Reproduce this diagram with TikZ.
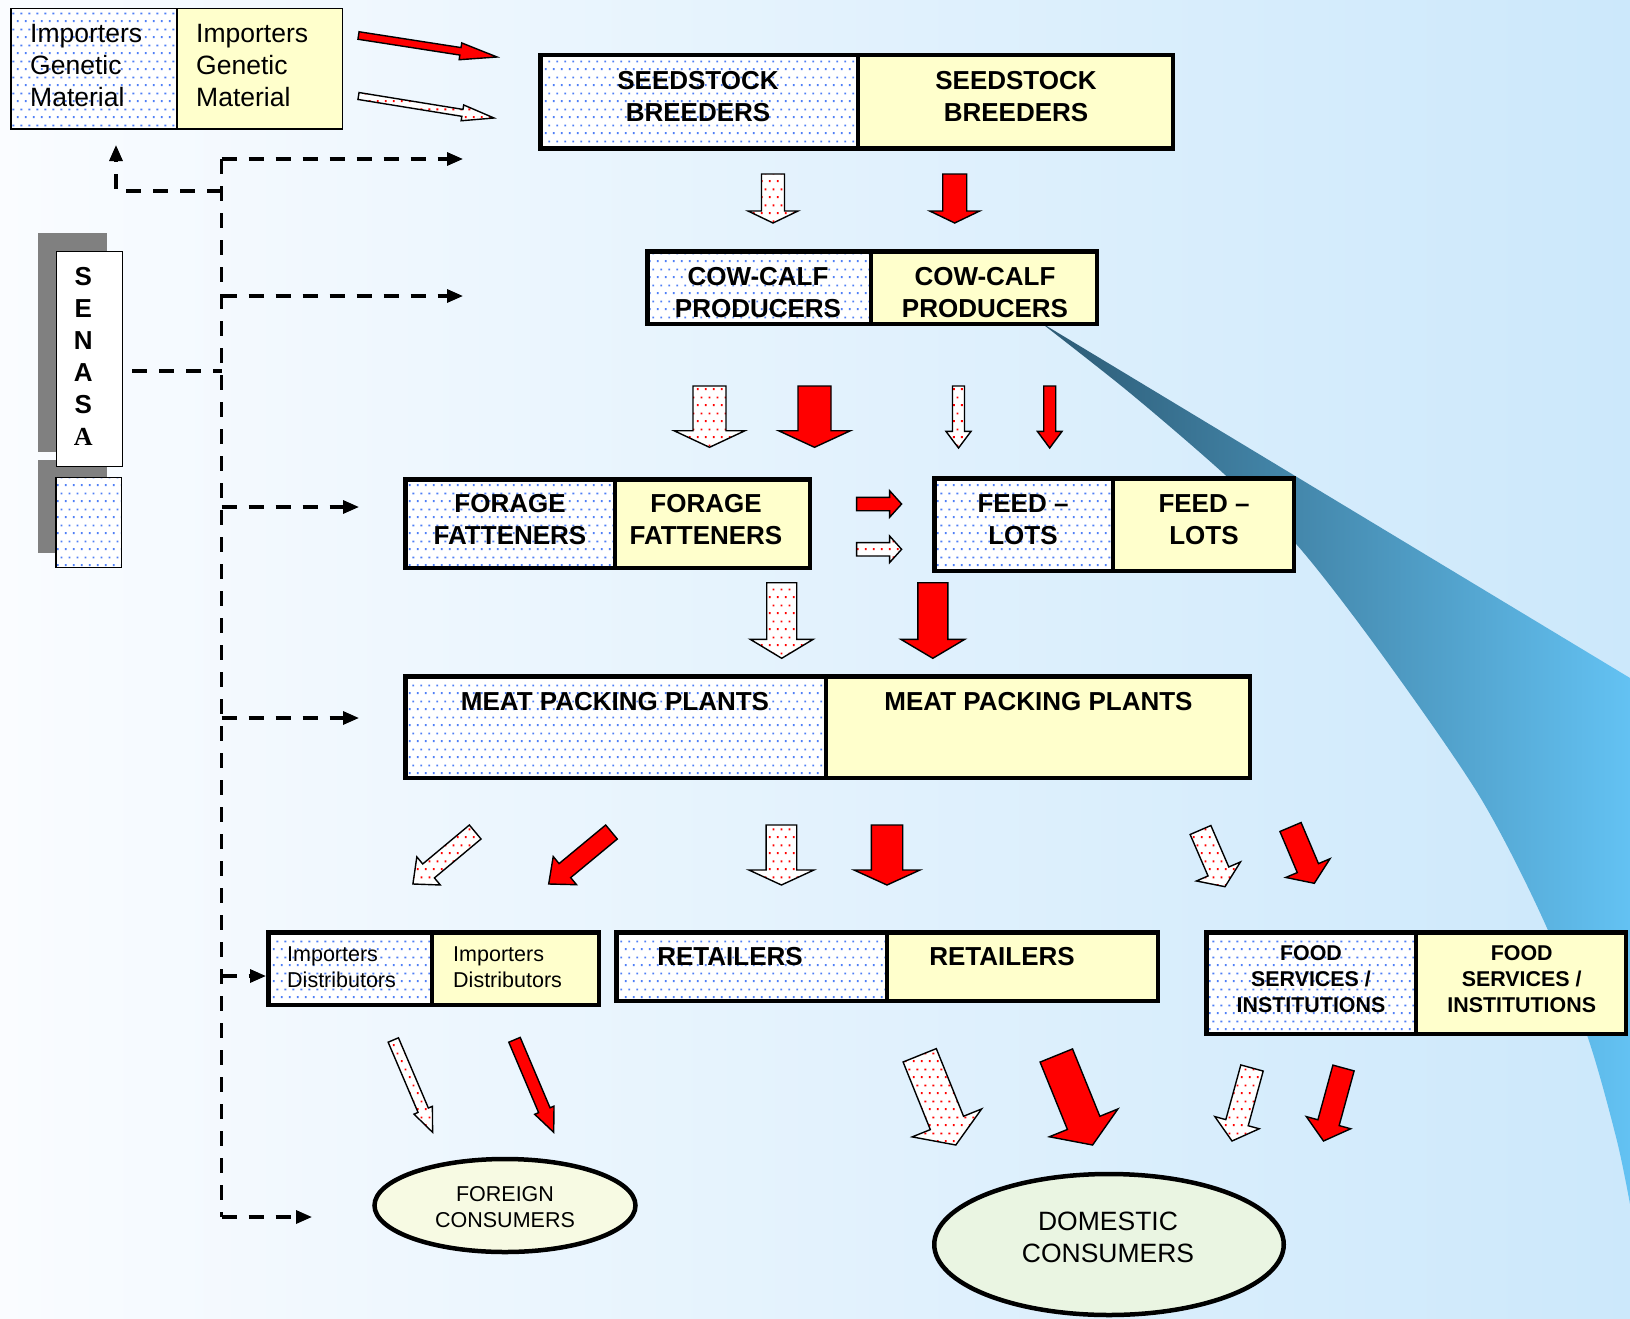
\documentclass[tikz,border=0pt]{standalone}
\usepackage{fontspec}
\setmainfont{Liberation Sans}
\newfontfamily\timesbold{Liberation Serif}
\usetikzlibrary{calc,arrows.meta,patterns.meta,shapes.geometric}

\definecolor{bgleft}{HTML}{FAFCFF}
\definecolor{bgright}{HTML}{CCE8FB}
\definecolor{swdark}{HTML}{2C5A74}
\definecolor{swlight}{HTML}{63C2F3}
\definecolor{paleyellow}{HTML}{FFFFCC}
\definecolor{dotblue}{HTML}{4F7FF6}
\definecolor{arrowred}{HTML}{FF0000}
\definecolor{shadowgray}{HTML}{808080}
\definecolor{foreignfill}{HTML}{F7FAE3}
\definecolor{domesticfill}{HTML}{EAF5E2}

% sparse blue dots for the left half of each box
\tikzdeclarepattern{
  name=bluedots,
  type=colored,
  bottom left={(0pt,0pt)},
  top right={(8pt,16pt)},
  tile size={(8pt,16pt)},
  code={
    \fill[dotblue] (1pt,1pt) rectangle (3pt,3pt);
    \fill[dotblue] (5pt,9pt) rectangle (7pt,11pt);
  }
}
% red dots for the white block arrows
\tikzdeclarepattern{
  name=reddots,
  type=colored,
  bottom left={(0pt,0pt)},
  top right={(8pt,16pt)},
  tile size={(8pt,16pt)},
  code={
    \fill[arrowred] (1pt,1pt) rectangle (3pt,3pt);
    \fill[arrowred] (5pt,9pt) rectangle (7pt,11pt);
  }
}

\tikzset{
  dotcell/.style={rectangle, draw=black, preaction={fill=white}, pattern=bluedots, inner sep=0pt, outer sep=0pt},
  yelcell/.style={rectangle, draw=black, fill=paleyellow, inner sep=0pt, outer sep=0pt},
  bigbold/.style={font=\fontsize{26}{32}\selectfont\bfseries, align=center, inner sep=0pt},
  smallbold/.style={font=\fontsize{21.4}{26}\selectfont\bfseries, align=center, inner sep=0pt},
  bigreg/.style={font=\fontsize{26.5}{32}\selectfont, align=left, inner sep=0pt},
  smallreg/.style={font=\fontsize{21.5}{26}\selectfont, align=left, inner sep=0pt},
  redarrow/.style={fill=arrowred, draw=black, line width=1.4pt, line join=miter},
  dotarrow/.style={preaction={fill=white}, pattern=reddots, draw=black, line width=1.4pt, line join=miter},
  dashline/.style={draw=black, line width=3.2pt, dash pattern=on 15pt off 12pt},
  dashtip/.style={-{Triangle[length=16pt,width=13pt]}},
}

% block arrow: #1 style, #2 tail centre, #3 tip, #4 shaft half width, #5 head half width, #6 head length
\newcommand{\blockarrow}[6]{%
  \coordinate (ba-tail) at #2;
  \coordinate (ba-tip) at #3;
  \coordinate (ba-neck) at ($(ba-tip)!#6pt!(ba-tail)$);
  \draw[#1] ($(ba-tail)!#4pt!90:(ba-tip)$) -- ($(ba-neck)!#4pt!90:(ba-tip)$)
    -- ($(ba-neck)!#5pt!90:(ba-tip)$) -- (ba-tip)
    -- ($(ba-neck)!#5pt!-90:(ba-tip)$) -- ($(ba-neck)!#4pt!-90:(ba-tip)$)
    -- ($(ba-tail)!#4pt!-90:(ba-tip)$) -- cycle;
}

% two-part box: #1 name, #2 left, #3 divider, #4 right, #5 top, #6 bottom (outer edges), #7 border width
\newcommand{\splitbox}[7]{%
  \pgfmathsetmacro{\sbl}{#2+#7/2}%
  \pgfmathsetmacro{\sbr}{#4-#7/2}%
  \pgfmathsetmacro{\sbt}{#5+#7/2}%
  \pgfmathsetmacro{\sbb}{#6-#7/2}%
  \pgfmathsetmacro{\sbwl}{#3-\sbl}%
  \pgfmathsetmacro{\sbwr}{\sbr-#3}%
  \pgfmathsetmacro{\sbh}{\sbb-\sbt}%
  \node[dotcell, line width=#7pt, minimum width=\sbwl pt, minimum height=\sbh pt, anchor=north west] (#1L) at (\sbl,\sbt) {};
  \node[yelcell, line width=#7pt, minimum width=\sbwr pt, minimum height=\sbh pt, anchor=north west] (#1R) at (#3,\sbt) {};
}

\begin{document}
\begin{tikzpicture}[x=1pt,y=-1pt]
\useasboundingbox (0,0) rectangle (1630,1319);

% background and swoosh
\shade[left color=bgleft, right color=bgright] (0,0) rectangle (1630,1319);
\begin{scope}
\clip (0,0) rectangle (1630,1319);
\shade[left color=swdark, right color=swlight]
  (1040,322) -- (1630,678) -- (1630,1204)
  -- plot[smooth] coordinates {(1630,1204) (1617,1141) (1590,1044) (1547,928)
     (1480,797) (1380,652) (1297,545) (1223,473) (1130,393) (1040,322)}
  -- cycle;
\end{scope}

% SENASA column
\fill[shadowgray] (38.3,233.3) rectangle (106.7,451.7);
\fill[shadowgray] (38.3,460) rectangle (106.7,553.3);
\node[draw=black, line width=1.5pt, fill=white, inner sep=0pt, minimum width=65.8pt, minimum height=215.2pt, anchor=north west] (senasa) at (55.75,250.75) {};
\node[dotcell, line width=1.5pt, minimum width=65.8pt, minimum height=90.1pt, anchor=north west] (senasaKey) at (55.75,477.45) {};
\node[bigbold] (senasaT) at (83.3,356.7) {S\\E\\N\\A\\S\\{\timesbold A}};

% dashed control lines
\coordinate (trunkTop) at (221.5,159);
\coordinate (trunkBot) at (221.5,1217);
\coordinate (seedIn) at (463,159);
\coordinate (jCow) at (221.5,296);
\coordinate (cowIn) at (463,296);
\coordinate (jSen) at (221.5,371);
\coordinate (senOut) at (132,371);
\coordinate (jImp) at (221.5,191);
\coordinate (impCorner) at (116,191);
\coordinate (impIn) at (116,145);
\coordinate (jFor) at (221.5,507);
\coordinate (forIn) at (359,507);
\coordinate (jMeat) at (221.5,718);
\coordinate (meatIn) at (359,718);
\coordinate (jDist) at (221.5,976);
\coordinate (distIn) at (266,976);
\coordinate (foreignIn) at (312,1217);

\draw[dashline] (trunkTop) -- (trunkBot);
\draw[dashline, dashtip] (trunkTop) -- (seedIn);
\draw[dashline, dashtip] (jCow) -- (cowIn);
\draw[dashline] (senOut) -- (jSen);
\draw[dashline, dashtip] (jImp) -- (impCorner) -- (impIn);
\draw[dashline, dashtip] (jFor) -- (forIn);
\draw[dashline, dashtip] (jMeat) -- (meatIn);
\draw[dashline, dashtip] (jDist) -- (distIn);
\draw[dashline, dashtip] (trunkBot) -- (foreignIn);

% boxes
\splitbox{imp}{10}{177}{343}{8}{130}{1.5}
\splitbox{seed}{538}{858}{1175}{53}{151}{4.5}
\splitbox{cow}{645}{871}{1099}{249}{326}{4.5}
\splitbox{forage}{403}{615}{812}{477}{570}{4.5}
\splitbox{feed}{932}{1113}{1296}{476}{573}{4.5}
\splitbox{meat}{403}{826}{1252}{674}{780}{4.5}
\splitbox{dist}{266}{432}{601}{930}{1007}{4.5}
\splitbox{retail}{614}{887}{1160}{930}{1003}{4.5}
\splitbox{food}{1204}{1416}{1628}{930}{1036}{4.5}

% box labels
\node[bigreg, anchor=west] (impLt) at (30,65.7) {Importers\\Genetic\\Material};
\node[bigreg, anchor=west] (impRt) at (196,65.7) {Importers\\Genetic\\Material};
\node[bigbold] (seedLt) at (698,96.7) {SEEDSTOCK\\BREEDERS};
\node[bigbold] (seedRt) at (1016,96.7) {SEEDSTOCK\\BREEDERS};
\node[bigbold] (cowLt) at (758,292.5) {COW-CALF\\PRODUCERS};
\node[bigbold] (cowRt) at (985,292.5) {COW-CALF\\PRODUCERS};
\node[bigbold] (forLt) at (510,519.7) {FORAGE\\FATTENERS};
\node[bigbold] (forRt) at (706,519.7) {FORAGE\\FATTENERS};
\node[bigbold] (feedLt) at (1023,519.7) {FEED –\\LOTS};
\node[bigbold] (feedRt) at (1204,519.7) {FEED –\\LOTS};
\node[bigbold] (meatLt) at (615,702) {MEAT PACKING PLANTS};
\node[bigbold] (meatRt) at (1038.5,702) {MEAT PACKING PLANTS};
\node[smallreg, anchor=west] (distLt) at (287,967) {Importers\\Distributors};
\node[smallreg, anchor=west] (distRt) at (453,967) {Importers\\Distributors};
\node[bigbold] (retLt) at (730,957) {RETAILERS};
\node[bigbold] (retRt) at (1002,957) {RETAILERS};
\node[smallbold] (foodLt) at (1311,979.2) {FOOD\\SERVICES /\\INSTITUTIONS};
\node[smallbold] (foodRt) at (1521.7,979.2) {FOOD\\SERVICES /\\INSTITUTIONS};

% consumers
\node[ellipse, draw=black, line width=4.5pt, fill=foreignfill, inner sep=0pt, minimum width=261pt, minimum height=93pt] (foreign) at (505,1205.5) {};
\node[smallreg, align=center] (foreignT) at (505,1207) {FOREIGN\\CONSUMERS};
\node[ellipse, draw=black, line width=4.5pt, fill=domesticfill, inner sep=0pt, minimum width=349.5pt, minimum height=141pt] (domestic) at (1109,1244.5) {};
\node[bigreg, align=center] (domesticT) at (1108,1237) {DOMESTIC\\CONSUMERS};

% flow arrows
\blockarrow{redarrow}{(358.5,35.5)}{(497,57)}{3.8}{8.5}{37}
\blockarrow{dotarrow}{(358.5,96)}{(494,118)}{3.5}{8}{32}

\blockarrow{dotarrow}{(773,174)}{(773,223)}{11.5}{25}{12}
\blockarrow{redarrow}{(954.7,174)}{(954.7,223)}{12}{25}{12}

\blockarrow{dotarrow}{(709.5,386)}{(709.5,447.3)}{16.5}{35.5}{16.6}
\blockarrow{redarrow}{(814.5,386)}{(814.5,447.3)}{16.5}{36}{16.6}
\blockarrow{dotarrow}{(958.5,386)}{(958.5,448)}{6}{12.5}{16.6}
\blockarrow{redarrow}{(1049.7,386)}{(1049.7,448)}{6}{12.3}{16.6}

\blockarrow{redarrow}{(856.6,504)}{(901.6,504)}{6.7}{13.3}{12}
\blockarrow{dotarrow}{(856.6,549.3)}{(901.6,549.3)}{6.7}{13.3}{12}

\blockarrow{dotarrow}{(781.7,582.7)}{(781.7,658.3)}{15}{31.5}{19}
\blockarrow{redarrow}{(932.8,582.7)}{(932.8,658.3)}{15}{32}{19}

\blockarrow{dotarrow}{(475.2,832)}{(412.9,884)}{9.1}{18.3}{20.4}
\blockarrow{redarrow}{(611.5,832)}{(548.7,884)}{9.1}{18.3}{21}
\blockarrow{dotarrow}{(781.4,825)}{(781.4,885)}{15.3}{32.5}{15}
\blockarrow{redarrow}{(887,825)}{(887,885)}{15.7}{33}{15}
\blockarrow{dotarrow}{(1200.5,830)}{(1225,886.7)}{11.3}{24}{16.6}
\blockarrow{redarrow}{(1290.5,827)}{(1314.3,883.3)}{11.5}{24}{16.5}

\blockarrow{dotarrow}{(393.3,1040)}{(432.6,1132.3)}{5.6}{10}{24}
\blockarrow{redarrow}{(514.5,1039.8)}{(553.7,1132.3)}{6.2}{10.5}{24}

\blockarrow{dotarrow}{(919.7,1055.3)}{(955.8,1145)}{17.9}{37.4}{23.8}
\blockarrow{redarrow}{(1056.3,1055.5)}{(1092.6,1145)}{17.5}{37}{23.9}
\blockarrow{dotarrow}{(1252,1068)}{(1232,1141)}{11.6}{23}{19}
\blockarrow{redarrow}{(1343.5,1068)}{(1323.5,1141)}{11}{23}{19}

\end{tikzpicture}
\end{document}
